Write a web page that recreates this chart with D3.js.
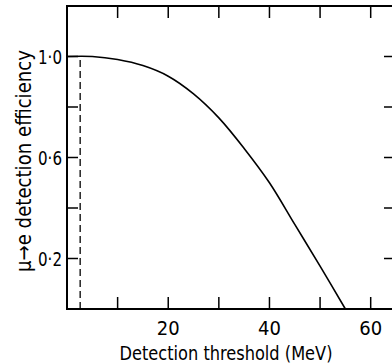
<!DOCTYPE html>
<html>
<head>
<meta charset="utf-8">
<script src="https://cdn.jsdelivr.net/npm/d3@7"></script>
<style>
  body { margin: 0; background: #fff; }
  text { font-family: "DejaVu Sans Condensed", "DejaVu Sans", sans-serif; fill: #000; }
</style>
</head>
<body>
<svg id="chart" width="392" height="364"></svg>
<script>
// efficiency curve
var threshold = [0, 5, 10, 15, 20, 25, 30, 35, 40, 45, 50, 55];
var efficiency = [1.0, 1.0, 0.988, 0.964, 0.922, 0.852, 0.757, 0.636, 0.50, 0.335, 0.17, 0.0];
var cutoff = 2.6; // dashed line position (MeV)

var xTicks = [10, 20, 30, 40, 50, 60];
var xTickLabels = ["20", "40", "60"];
var yTicks = [0.2, 0.4, 0.6, 0.8, 1.0];
var yTickLabels = ["0·2", "0·6", "1·0"];

(function () {
  var svg = d3.select("#chart");
  var mLeft = 67, mRight = 396, mTop = 6, mBottom = 309;

  var x = d3.scaleLinear().domain([0, 65]).range([mLeft, mRight]);
  var y = d3.scaleLinear().domain([0, 1.2]).range([mBottom, mTop]);

  // frame
  svg.append("rect")
    .attr("x", mLeft).attr("y", mTop)
    .attr("width", mRight - mLeft).attr("height", mBottom - mTop)
    .attr("fill", "none").attr("stroke", "#000").attr("stroke-width", 2);

  // ticks, all pointing inward
  var tickLen = 12;
  var g = svg.append("g").attr("stroke", "#000").attr("stroke-width", 1.5);
  xTicks.forEach(function (t) {
    g.append("line").attr("x1", x(t)).attr("x2", x(t)).attr("y1", mBottom).attr("y2", mBottom - tickLen);
    g.append("line").attr("x1", x(t)).attr("x2", x(t)).attr("y1", mTop).attr("y2", mTop + tickLen);
  });
  yTicks.forEach(function (t) {
    g.append("line").attr("x1", mLeft).attr("x2", mLeft + 11).attr("y1", y(t)).attr("y2", y(t));
    g.append("line").attr("x1", mRight).attr("x2", mRight - 12).attr("y1", y(t)).attr("y2", y(t));
  });

  // tick labels
  xTickLabels.forEach(function (s) {
    svg.append("text")
      .attr("x", x(+s)).attr("y", 335)
      .attr("text-anchor", "middle")
      .attr("font-size", 20)
      .text(s);
  });
  yTickLabels.forEach(function (s) {
    var v = parseFloat(s.replace("·", "."));
    svg.append("text")
      .attr("x", 62).attr("y", y(v) + 7)
      .attr("text-anchor", "end")
      .attr("font-size", 20)
      .attr("textLength", 24).attr("lengthAdjust", "spacingAndGlyphs")
      .text(s);
  });

  // axis titles
  svg.append("text")
    .attr("x", 226).attr("y", 360)
    .attr("text-anchor", "middle")
    .attr("font-size", 20)
    .attr("textLength", 213).attr("lengthAdjust", "spacingAndGlyphs")
    .text("Detection threshold (MeV)");

  svg.append("text")
    .attr("transform", "translate(31,161) rotate(-90)")
    .attr("text-anchor", "middle")
    .attr("font-size", 21)
    .attr("textLength", 222).attr("lengthAdjust", "spacingAndGlyphs")
    .text("μ→e detection efficiency");

  // dashed cutoff line
  svg.append("line")
    .attr("x1", x(cutoff)).attr("x2", x(cutoff))
    .attr("y1", y(0)).attr("y2", y(1.0))
    .attr("stroke", "#000").attr("stroke-width", 1.3)
    .attr("stroke-dasharray", "7,4");

  // curve
  var line = d3.line()
    .x(function (d, i) { return x(threshold[i]); })
    .y(function (d) { return y(d); })
    .curve(d3.curveCatmullRom.alpha(0.5));

  svg.append("path")
    .datum(efficiency)
    .attr("d", line)
    .attr("fill", "none")
    .attr("stroke", "#000")
    .attr("stroke-width", 1.6);
})();
</script>
</body>
</html>
